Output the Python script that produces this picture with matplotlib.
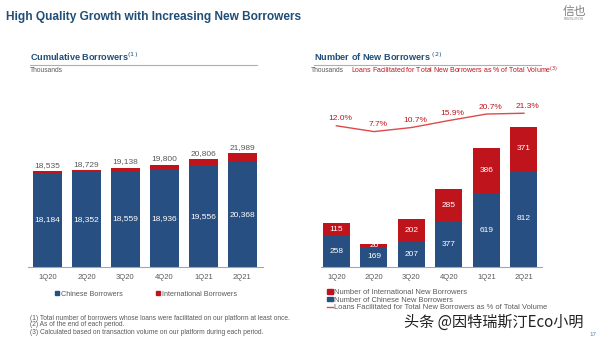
import numpy as np
import matplotlib
matplotlib.use("Agg")
import matplotlib.pyplot as plt
from matplotlib.patches import Patch
from matplotlib.lines import Line2D

plt.rcParams['font.family'] = ['Liberation Sans', 'DejaVu Sans', 'Noto Sans CJK SC']

quarters = ['1Q20', '2Q20', '3Q20', '4Q20', '1Q21', '2Q21']
cum_total = [18535, 18729, 19138, 19800, 20806, 21989]
cum_chinese = [18184, 18352, 18559, 18936, 19556, 20368]
new_chinese = [258, 169, 207, 377, 619, 812]
new_intl = [115, 26, 202, 285, 386, 371]
new_pct = [12.0, 7.7, 10.7, 15.9, 20.7, 21.3]

BLUE = '#284F82'
RED = '#C0141C'
LINE_RED = '#E0484A'
TITLE = '#1F4E79'
GRAY = '#595959'

W, H = 600, 341
fig = plt.figure(figsize=(W / 100, H / 100), dpi=100)


def px_axes(x0, y0, x1, y1):
    # pixel box (top-left origin) -> figure axes
    return fig.add_axes([x0 / W, 1 - y1 / H, (x1 - x0) / W, (y1 - y0) / H])


def txt(x, y, s, **kw):
    fig.text(x / W, 1 - y / H, s, **kw)


# header
txt(6, 17, 'High Quality Growth with Increasing New Borrowers', fontsize=8.6,
    fontweight='bold', color=TITLE, va='center')
txt(574, 11, '信也', fontsize=8.5, color='#7F7F7F', va='center', ha='center',
    family=['Noto Sans CJK SC'])
txt(574, 19.5, 'FINVOLUTION', fontsize=2.2, color='#7F7F7F', va='center', ha='center')

# panel headings
for x0, x1, title in [(30, 257, 'Cumulative Borrowers$^{(1)}$'),
                      (314, 541, 'Number of New Borrowers $^{(2)}$')]:
    txt(x0, 57, title, fontsize=6.6, fontweight='bold', color=TITLE, va='center')
    fig.add_artist(Line2D([x0 / W, x1 / W], [1 - 65 / H, 1 - 65 / H],
                          color='#9DB3CC', lw=0.8))
txt(30, 70.5, 'Thousands', fontsize=4.8, color=GRAY, va='center')
txt(311, 70.5, 'Thousands', fontsize=4.8, color=GRAY, va='center')
txt(351, 70.5, 'Loans Facilitated for Total New Borrowers as % of Total Volume$^{(3)}$',
    fontsize=5, color=RED, va='center')

x = np.arange(len(quarters))

# left chart
ax1 = px_axes(28, 100, 263, 267)
cum_intl = np.array(cum_total) - np.array(cum_chinese)
ax1.bar(x, cum_chinese, width=0.74, color=BLUE)
ax1.bar(x, cum_intl, bottom=cum_chinese, width=0.74, color=RED)
for i in range(len(x)):
    ax1.text(x[i], cum_chinese[i] / 2, f'{cum_chinese[i]:,}', ha='center',
             va='center', color='white', fontsize=6)
    ax1.text(x[i], cum_total[i] + 500, f'{cum_total[i]:,}', ha='center',
             va='bottom', color=GRAY, fontsize=6)
ax1.set_xlim(-0.5, 5.53)
ax1.set_ylim(0, 32300)

# right chart
ax2 = px_axes(321, 100, 542, 267)
ax2.bar(x, new_chinese, width=0.72, color=BLUE)
ax2.bar(x, new_intl, bottom=new_chinese, width=0.72, color=RED)
for i in range(len(x)):
    ax2.text(x[i], new_chinese[i] / 2, f'{new_chinese[i]}', ha='center',
             va='center', color='white', fontsize=6)
    ax2.text(x[i], new_chinese[i] + new_intl[i] / 2, f'{new_intl[i]}',
             ha='center', va='center', color='white', fontsize=6)
ax2.set_xlim(-0.41, 5.48)
ax2.set_ylim(0, 1410)

ax3 = ax2.twinx()
ax3.plot(x, new_pct, color=LINE_RED, lw=1)
for i in range(len(x)):
    ax3.text(x[i] + 0.1, new_pct[i] + 2.5, f'{new_pct[i]:.1f}%', ha='center',
             va='bottom', color=RED, fontsize=6)
ax3.set_ylim(-92.6, 31.1)
ax3.axis('off')

for ax in (ax1, ax2):
    for s in ['top', 'right', 'left']:
        ax.spines[s].set_visible(False)
    ax.spines['bottom'].set_color('#A6A6A6')
    ax.spines['bottom'].set_linewidth(0.8)
    ax.set_yticks([])
    ax.set_xticks(x)
    ax.set_xticklabels(quarters, fontsize=5.5, color=GRAY)
    ax.tick_params(axis='x', length=0, pad=5)

# legends
fig.legend(handles=[Patch(color=BLUE, label='Chinese Borrowers'),
                    Patch(color=RED, label='International Borrowers')],
           loc='center left', bbox_to_anchor=(48 / W, 1 - 294 / H), ncol=2,
           frameon=False, fontsize=5.2, handlelength=0.6, handleheight=0.6,
           handletextpad=0.3, columnspacing=4.6, labelcolor=GRAY)
fig.legend(handles=[Patch(color=RED, label='Number of International New Borrowers'),
                    Patch(color=BLUE, label='Number of Chinese New Borrowers'),
                    Line2D([], [], color=LINE_RED, lw=1,
                           label='Loans Facilitated for Total New Borrowers as % of Total Volume')],
           loc='upper left', bbox_to_anchor=(323 / W, 1 - 285 / H), frameon=False,
           fontsize=5.4, handlelength=0.8, handleheight=0.6, handletextpad=0.2,
           labelspacing=0.1, labelcolor=GRAY, borderpad=0)

# footnotes
notes = ['(1) Total number of borrowers whose loans were facilitated on our platform at least once.',
         '(2) As of the end of each period.',
         '(3) Calculated based on transaction volume on our platform during each period.']
for k, n in enumerate(notes):
    txt(30, 318 + 7 * k, n, fontsize=4.8, color=GRAY, va='center')

txt(404, 322, '头条 @因特瑞斯汀Eco小明', fontsize=10.9, color='#222222', va='center',
    family=['Noto Sans CJK SC'])
txt(593, 334, '17', fontsize=4.5, color='#5B7FA6', va='center', ha='center')

fig.savefig('out.png', dpi=100)
